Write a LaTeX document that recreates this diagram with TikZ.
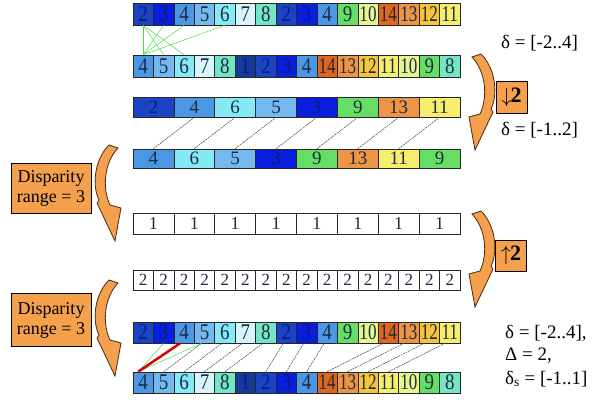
\documentclass[tikz,border=0pt]{standalone}
\usepackage{fontspec}
\setmainfont{Liberation Serif}
\usetikzlibrary{calc}
\definecolor{v1}{HTML}{143A9C}
\definecolor{v2}{HTML}{1A44C4}
\definecolor{v3}{HTML}{0A1EE0}
\definecolor{v4}{HTML}{4C96E6}
\definecolor{v5}{HTML}{74B8F0}
\definecolor{v6}{HTML}{86EAF6}
\definecolor{v7}{HTML}{D6F6FC}
\definecolor{v8}{HTML}{74E6C4}
\definecolor{v9}{HTML}{66DE66}
\definecolor{v10}{HTML}{E6F68E}
\definecolor{v11}{HTML}{F8EE6E}
\definecolor{v12}{HTML}{F6C43A}
\definecolor{v13}{HTML}{EE9446}
\definecolor{v14}{HTML}{E0661C}
\definecolor{tblue}{HTML}{0C1A78}
\definecolor{tdark}{HTML}{1C2C40}
\colorlet{t1}{tblue}\colorlet{t2}{tblue}\colorlet{t3}{tblue}
\colorlet{t4}{tdark}\colorlet{t5}{tdark}\colorlet{t6}{tdark}\colorlet{t7}{tdark}
\colorlet{t8}{tdark}\colorlet{t9}{tdark}\colorlet{t10}{tdark}\colorlet{t11}{tdark}
\colorlet{t12}{tdark}\colorlet{t13}{tdark}\colorlet{t14}{tdark}
\definecolor{orng}{HTML}{F4A04C}
\definecolor{arrline}{HTML}{4A2A10}
\definecolor{lgreen}{HTML}{48DC48}
\newcommand\cn[1]{\ifnum#1>9 \scalebox{0.9}[1.18]{#1}\else\scalebox{1}[1.18]{#1}\fi}
\tikzset{
  cell/.style={draw=black!85, line width=0.6pt, fill=v#1, text=t#1, inner sep=0pt,
    font=\fontsize{19}{19}\selectfont},
  wcell/.style={draw=black!85, line width=0.6pt, fill=white, text=tdark, inner sep=0pt},
  link/.style={draw=black!75, line width=0.5pt, dash pattern=on 2pt off 0.8pt},
  glink/.style={draw=lgreen, line width=0.5pt},
  obox/.style={draw=black, line width=0.8pt, fill=orng, inner sep=0pt},
  lbl/.style={font=\fontsize{19}{23}\selectfont, inner sep=0pt, anchor=west, align=left},
  arrowfill/.style={fill=orng, draw=arrline, line width=0.8pt},
  bendarrow/.pic={
    \filldraw[arrowfill] (-4,0) -- (5,-3) .. controls (20,12) and (22,38) .. (15,52)
      -- (17,55) -- (-1,93) -- (-7,60) -- (4,57)
      .. controls (12,40) and (10,15) .. (-4,0) -- cycle;
  }
}
\begin{document}
\begin{tikzpicture}[x=1pt,y=-1pt]
\useasboundingbox[fill=white] (0,0) rectangle (592,404);
% row 1
\foreach \v [count=\i] in {2,3,4,5,6,7,8,2,3,4,9,10,14,13,12,11}
  \node[cell=\v, minimum width=20.44pt, minimum height=22pt] (a\i) at ({133+20.4375*(\i-0.5)},14) {\cn{\v}};
% row 2
\foreach \v [count=\i] in {4,5,6,7,8,1,2,3,4,14,13,12,11,10,9,8}
  \node[cell=\v, minimum width=20.44pt, minimum height=22pt] (b\i) at ({133+20.4375*(\i-0.5)},66) {\cn{\v}};
% row 3
\foreach \v [count=\i] in {2,4,6,5,3,9,13,11}
  \node[cell=\v, minimum width=40.875pt, minimum height=20pt] (c\i) at ({133+40.875*(\i-0.5)},107) {\v};
% row 4
\foreach \v [count=\i] in {4,6,5,3,9,13,11,9}
  \node[cell=\v, minimum width=40.875pt, minimum height=19pt] (d\i) at ({133+40.875*(\i-0.5)},158.5) {\v};
% row 5
\foreach \i in {1,...,8}
  \node[wcell, minimum width=40.875pt, minimum height=21pt, font=\fontsize{18}{18}\selectfont] (e\i) at ({133+40.875*(\i-0.5)},223.5) {1};
% row 6
\foreach \i in {1,...,16}
  \node[wcell, minimum width=20.44pt, minimum height=20pt, font=\fontsize{17}{17}\selectfont] (f\i) at ({133+20.4375*(\i-0.5)},280) {2};
% row 7
\foreach \v [count=\i] in {2,3,4,5,6,7,8,2,3,4,9,10,14,13,12,11}
  \node[cell=\v, minimum width=20.44pt, minimum height=21pt] (g\i) at ({133+20.4375*(\i-0.5)},332.5) {\cn{\v}};
% row 8
\foreach \v [count=\i] in {4,5,6,7,8,1,2,3,4,14,13,12,11,10,9,8}
  \node[cell=\v, minimum width=20.44pt, minimum height=21pt] (h\i) at ({133+20.4375*(\i-0.5)},382.5) {\cn{\v}};

% links rows 1-2
\foreach \t in {1,2,3,5}
  \draw[glink] (b1.north) -- (a\t.south);
\draw[glink] (a1.south) -- (b2.north);
\draw[glink] (a1.south) -- (b3.north);
% links rows 3-4
\foreach \k in {1,...,7}{
  \pgfmathtruncatemacro\j{\k+1}
  \draw[link] (d\k.north) -- (c\j.south);
}
% links rows 7-8
\foreach \k in {2,...,5}{
  \pgfmathtruncatemacro\j{\k+2}
  \draw[link] (h\k.north) -- ([xshift=-3pt]g\j.south);
}
\foreach \k in {7,8,9}{
  \pgfmathtruncatemacro\j{\k+1}
  \draw[link] (h\k.north) -- ([xshift=-3pt]g\j.south);
}
\foreach \k in {10,...,13}{
  \pgfmathtruncatemacro\j{\k+3}
  \draw[link] (h\k.north) -- ([xshift=-5pt]g\j.south);
}
\coordinate (rb) at ([xshift=-5pt]h1.north);
\draw[glink] (rb) -- (g2.south);
\draw[glink] (rb) -- ([xshift=-3pt]g4.south);
\draw[red!85!black, line width=2.5pt] (rb) -- ([xshift=-4pt]g3.south);

% curved arrows
\pic at (476,57) {bendarrow};
\pic at (476,214) {bendarrow};
\pic[xscale=-1] at (114,148) {bendarrow};
\pic[xscale=-1] at (114,283) {bendarrow};

% boxes
\node[obox, minimum width=31pt, minimum height=32pt, font=\fontsize{22}{22}\selectfont] (down) at (511.5,97) {$\downarrow$\hspace{-1pt}\textbf{2}};
\node[obox, minimum width=31pt, minimum height=31pt, font=\fontsize{22}{22}\selectfont] (up) at (511,255.5) {$\uparrow$\hspace{-1pt}\textbf{2}};
\node[obox, minimum width=80pt, minimum height=50pt, align=center, font=\fontsize{18}{20}\selectfont] (dr1) at (51,188) {Disparity\\range = 3};
\node[obox, minimum width=80pt, minimum height=53pt, align=center, font=\fontsize{18}{20}\selectfont] (dr2) at (51,320) {Disparity\\range = 3};

% labels
\node[lbl] (l1) at (501,43) {δ = [-2..4]};
\node[lbl] (l2) at (501,130) {δ = [-1..2]};
\node[lbl] (l3) at (505,333) {δ = [-2..4],};
\node[lbl] (l4) at (505,356) {Δ = 2,};
\node[lbl] (l5) at (505,379) {δ$_{\mathrm{s}}$ = [-1..1]};
\end{tikzpicture}
\end{document}
